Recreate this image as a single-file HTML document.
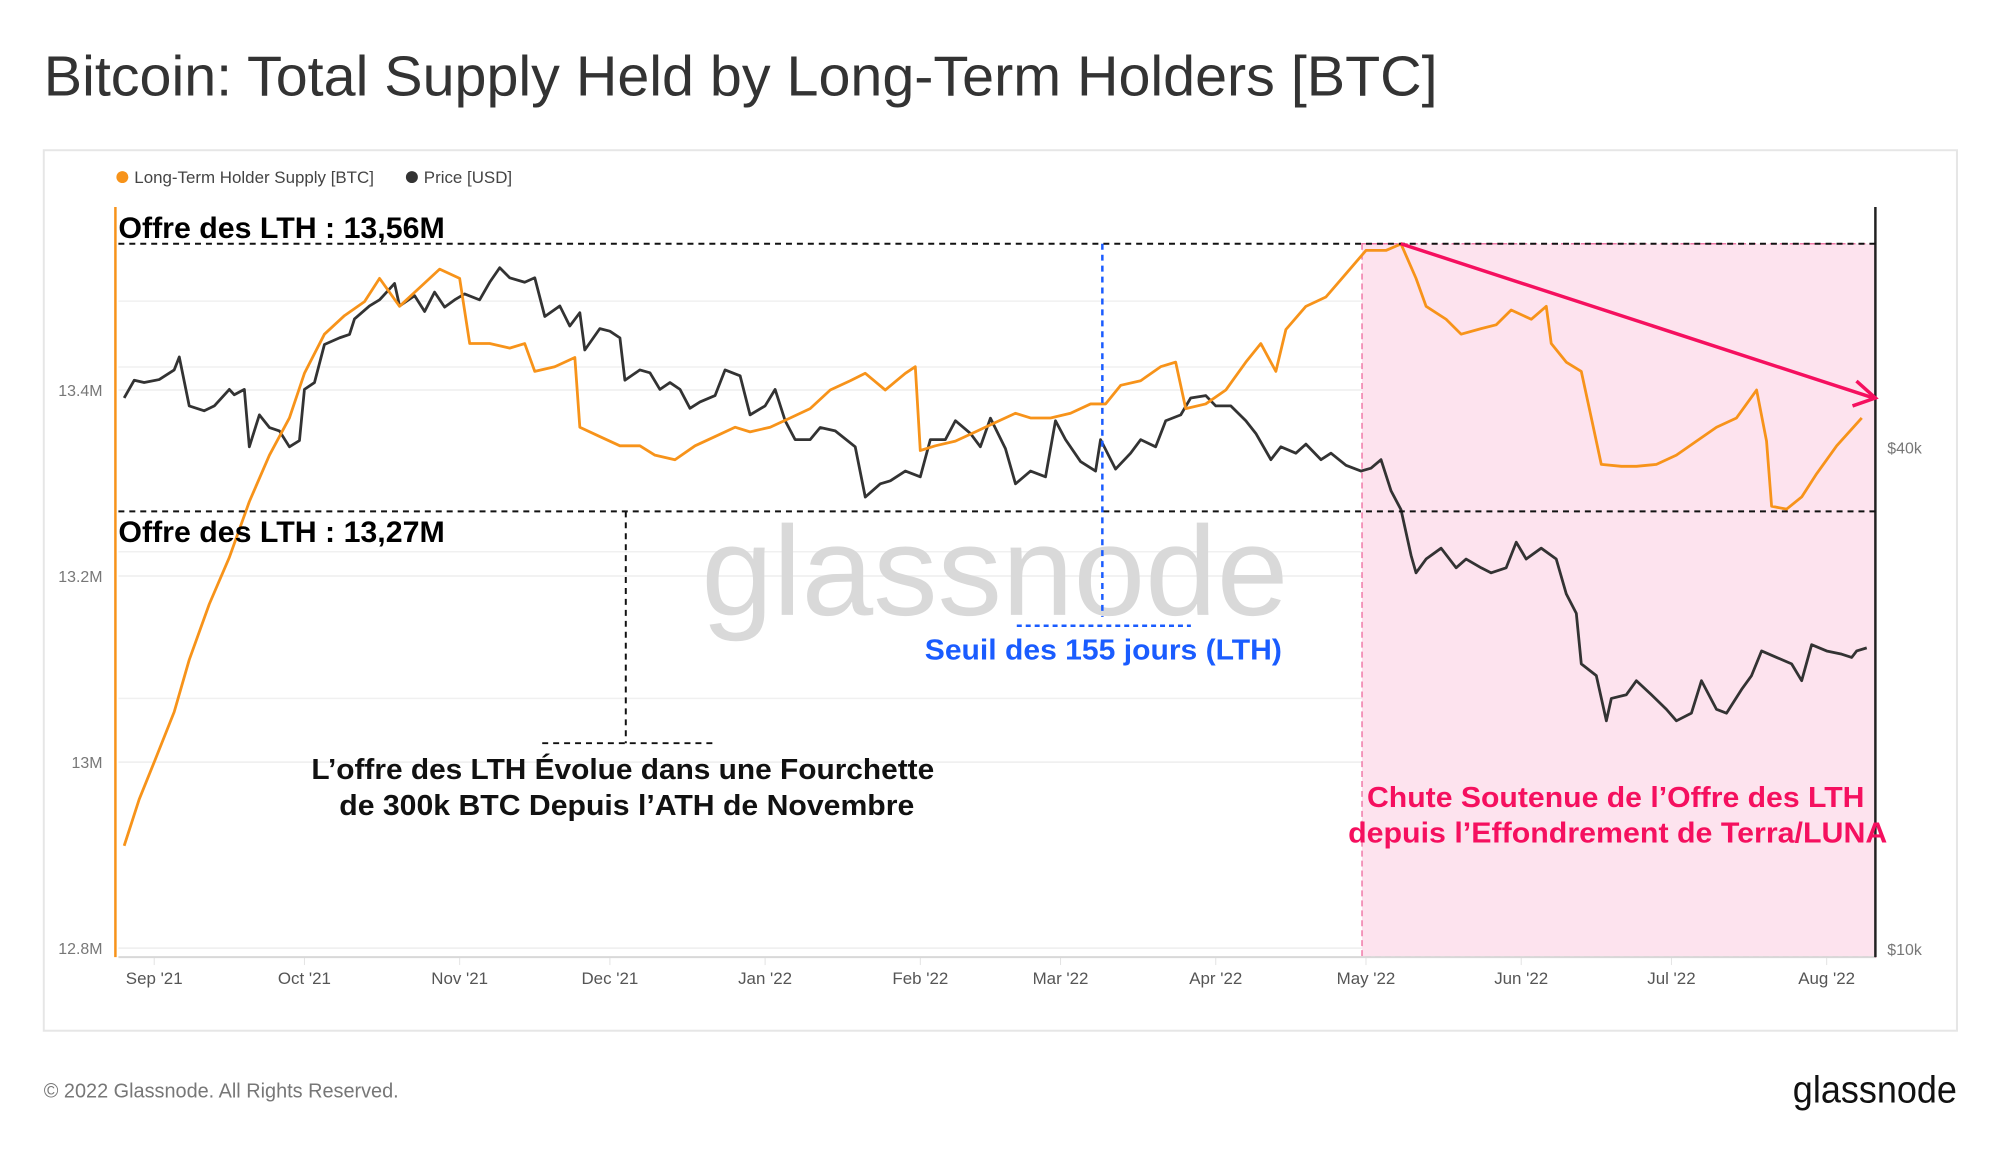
<!DOCTYPE html>
<html><head><meta charset="utf-8"><style>
html,body{margin:0;padding:0;background:#fff;}
svg{display:block;font-family:"Liberation Sans",sans-serif;}
</style></head><body>
<svg width="2000" height="1152" viewBox="0 0 2000 1152" xmlns="http://www.w3.org/2000/svg">
<g transform="scale(0.9949)">
<text x="44" y="96" font-size="57" fill="#333" textLength="1401" lengthAdjust="spacingAndGlyphs">Bitcoin: Total Supply Held by Long-Term Holders [BTC]</text>
<rect x="44" y="151" width="1923" height="885" fill="#fff" stroke="#e6e6e6" stroke-width="2"/>
<g>
<circle cx="123" cy="178" r="6" fill="#f7931a"/>
<text x="135" y="184" font-size="17" fill="#444">Long-Term Holder Supply [BTC]</text>
<circle cx="414" cy="178" r="6" fill="#333"/>
<text x="426" y="184" font-size="17" fill="#444">Price [USD]</text>
</g>
<g id="grid"></g>
<rect x="1369" y="245" width="516" height="717" fill="#fde3ee" stroke="#f07aa8" stroke-width="1.5" stroke-dasharray="6,4"/>
<text x="1000" y="618" font-size="128" fill="#d9d9d9" text-anchor="middle" textLength="590" lengthAdjust="spacingAndGlyphs">glassnode</text>
<g id="axes"></g>
<g id="series"></g>
<g>
<line x1="119" y1="245" x2="1885" y2="245" stroke="#111" stroke-width="2" stroke-dasharray="6,5"/>
<line x1="119" y1="514" x2="1885" y2="514" stroke="#111" stroke-width="2" stroke-dasharray="6,5"/>
<text x="119" y="239" font-size="30" font-weight="bold" fill="#000" textLength="328" lengthAdjust="spacingAndGlyphs">Offre des LTH : 13,56M</text>
<text x="119" y="545" font-size="30" font-weight="bold" fill="#000" textLength="328" lengthAdjust="spacingAndGlyphs">Offre des LTH : 13,27M</text>
<line x1="629" y1="514" x2="629" y2="747" stroke="#111" stroke-width="2" stroke-dasharray="6,5"/>
<line x1="545" y1="747" x2="718" y2="747" stroke="#111" stroke-width="2" stroke-dasharray="6,5"/>
<text x="626" y="783" font-size="29" font-weight="bold" fill="#111" text-anchor="middle" textLength="626" lengthAdjust="spacingAndGlyphs">L’offre des LTH Évolue dans une Fourchette</text>
<text x="630" y="819" font-size="29" font-weight="bold" fill="#111" text-anchor="middle" textLength="578" lengthAdjust="spacingAndGlyphs">de 300k BTC Depuis l’ATH de Novembre</text>
<line x1="1108" y1="245" x2="1108" y2="620" stroke="#1a5cff" stroke-width="2.5" stroke-dasharray="6,5"/>
<line x1="1022" y1="629" x2="1197" y2="629" stroke="#1a5cff" stroke-width="2.5" stroke-dasharray="5,4"/>
<text x="1109" y="663" font-size="29" font-weight="bold" fill="#1a5cff" text-anchor="middle" textLength="359" lengthAdjust="spacingAndGlyphs">Seuil des 155 jours (LTH)</text>
<text x="1624" y="811" font-size="29" font-weight="bold" fill="#f5105f" text-anchor="middle" textLength="500" lengthAdjust="spacingAndGlyphs">Chute Soutenue de l’Offre des LTH</text>
<text x="1626" y="847" font-size="29" font-weight="bold" fill="#f5105f" text-anchor="middle" textLength="542" lengthAdjust="spacingAndGlyphs">depuis l’Effondrement de Terra/LUNA</text>
<line x1="1408" y1="245" x2="1883" y2="400" stroke="#f5105f" stroke-width="3.5"/>
<polyline points="1866,383 1885,400 1862,408" fill="none" stroke="#f5105f" stroke-width="3.5"/>
</g>
<text x="44" y="1103" font-size="20" fill="#777">© 2022 Glassnode. All Rights Reserved.</text>
<text x="1967" y="1108" font-size="38" fill="#111" text-anchor="end" textLength="165" lengthAdjust="spacingAndGlyphs">glassnode</text>
</g>
</svg>
<script>
// days since 2021-09-01
const lthDays = [-6,-3,0,4,7,11,15,19,23,27,30,34,38,42,45,49,53,57,61,63,67,71,74,76,80,84,85,89,93,97,100,104,108,112,116,119,123,127,131,135,139,142,146,150,152,153,156,160,164,168,172,175,179,183,187,190,193,197,201,204,206,210,214,218,221,224,226,230,234,238,242,246,249,252,254,258,261,265,268,271,275,278,279,282,285,287,289,293,296,300,304,308,312,316,320,322,323,326,329,332,336,341];
const lthSupply = [12.91,12.96,13.0,13.054,13.11,13.17,13.22,13.28,13.33,13.37,13.418,13.46,13.48,13.495,13.52,13.49,13.51,13.53,13.52,13.45,13.45,13.445,13.45,13.42,13.425,13.435,13.36,13.35,13.34,13.34,13.33,13.325,13.34,13.35,13.36,13.355,13.36,13.37,13.38,13.40,13.41,13.418,13.40,13.418,13.425,13.335,13.34,13.345,13.355,13.365,13.375,13.37,13.37,13.375,13.385,13.385,13.405,13.41,13.425,13.43,13.38,13.385,13.40,13.43,13.45,13.42,13.465,13.49,13.50,13.525,13.55,13.55,13.557,13.52,13.49,13.476,13.46,13.466,13.47,13.486,13.476,13.49,13.45,13.43,13.42,13.37,13.32,13.318,13.318,13.32,13.33,13.345,13.36,13.37,13.40,13.345,13.275,13.272,13.285,13.31,13.34,13.37];
const priceDays = [-6,-4,-2,1,4,5,7,10,12,15,16,18,19,21,23,25,27,29,30,32,34,37,39,40,43,45,48,49,52,54,56,58,60,62,65,67,69,71,74,76,78,81,83,85,86,89,91,93,94,97,99,101,103,105,107,109,112,114,117,119,122,124,126,128,131,133,136,140,142,145,147,150,153,155,158,160,163,165,167,170,172,175,178,180,182,185,188,189,192,195,197,200,202,205,207,210,212,215,218,220,223,225,228,230,233,235,238,241,243,245,247,249,251,252,254,257,260,262,265,267,270,272,274,277,280,282,284,285,288,290,291,294,296,299,302,304,307,309,312,314,317,319,321,324,327,329,331,334,337,339,340,342];
const priceUsd = [45900,48200,47900,48300,49600,51400,44900,44300,44900,47000,46300,47000,40100,43800,42300,41900,40100,40800,47000,47900,53200,54200,54700,57100,59200,60200,63000,59200,60900,58300,61500,59000,60200,61200,60200,63200,65800,64000,63200,64000,57500,59200,56000,58100,52400,55600,55200,54200,48200,49600,49200,47000,47900,47000,44600,45400,46200,49600,48800,43800,44900,47000,43100,40900,40900,42300,41900,40100,34900,36200,36500,37500,36900,40900,40900,43100,41600,40100,43400,39900,36200,37500,36900,43100,40900,38500,37500,40900,37700,39400,40900,40100,43100,43800,45900,46200,44900,44900,43100,41600,38700,40100,39400,40400,38700,39400,38100,37500,37800,38700,35500,33700,29700,28300,29400,30300,28700,29400,28700,28300,28700,30800,29400,30300,29400,26700,25300,22000,21300,18800,20000,20200,21000,20200,19400,18800,19200,21000,19400,19200,20500,21300,22800,22400,22000,21000,23200,22800,22600,22400,22800,23000];
const monthLabels = ["Sep '21","Oct '21","Nov '21","Dec '21","Jan '22","Feb '22","Mar '22","Apr '22","May '22","Jun '22","Jul '22","Aug '22"];
const monthDays = [0,30,61,91,122,153,181,212,242,273,303,334];
const leftTicks = [12.8,13.0,13.2,13.4];
const leftTickLabels = ["12.8M","13M","13.2M","13.4M"];
const rightTicks = [10000,40000];
const rightTickLabels = ["$10k","$40k"];

const NS = "http://www.w3.org/2000/svg";
function xS(d){return 155 + d*5.033;}
function yL(v){return 392 - (v-13.4)/0.2*187;}
function yR(p){return 450 - Math.log10(p/40000)*837;}
function mk(tag, attrs, parent){const e=document.createElementNS(NS,tag);for(const k in attrs)e.setAttribute(k,attrs[k]);parent.appendChild(e);return e;}

const grid=document.getElementById('grid'), axes=document.getElementById('axes'), series=document.getElementById('series');
leftTicks.forEach(function(v,i){
  const g=mk('line',{x1:119,x2:1885,y1:yL(v),y2:yL(v),stroke:'#eeeeee','stroke-width':1.5},grid);
  
  
  const t=mk('text',{x:103,y:yL(v)+6,'font-size':16,fill:'#777','text-anchor':'end'},axes);
  t.textContent=leftTickLabels[i];
  
  
});
[20000,30000,50000,60000].forEach(function(p){
  const g=mk('line',{x1:119,x2:1885,y1:yR(p),y2:yR(p),stroke:'#f0f0f0','stroke-width':1.5},grid);
  
  
});
rightTicks.forEach(function(p,i){
  const t=mk('text',{x:1897,y:yR(p)+6,'font-size':16,fill:'#777'},axes);
  t.textContent=rightTickLabels[i];
  
  
});
monthDays.forEach(function(d,i){
  const tk=mk('line',{x1:xS(d),x2:xS(d),y1:962,y2:970,stroke:'#e3e3e3','stroke-width':1},axes);
  
  
  const t=mk('text',{x:xS(d),y:989,'font-size':17,fill:'#555','text-anchor':'middle'},axes);
  t.textContent=monthLabels[i];
  
  
});
const xb=mk('line',{x1:119,x2:1885,y1:962,y2:962,stroke:'#d8d8d8','stroke-width':2},axes);


const la=mk('line',{x1:116,x2:116,y1:208,y2:962,stroke:'#f7931a','stroke-width':2.5},axes);


const ra=mk('line',{x1:1885,x2:1885,y1:208,y2:962,stroke:'#222','stroke-width':2.5},axes);



let pp=priceDays.map(function(d,i){return (i?'L':'M')+xS(d).toFixed(1)+','+yR(priceUsd[i]).toFixed(1);}).join('');
const pl=mk('path',{d:pp,fill:'none',stroke:'#333','stroke-width':2.8,'stroke-linejoin':'round'},series);


let lp=lthDays.map(function(d,i){return (i?'L':'M')+xS(d).toFixed(1)+','+yL(lthSupply[i]).toFixed(1);}).join('');
const ll=mk('path',{d:lp,fill:'none',stroke:'#f7931a','stroke-width':2.8,'stroke-linejoin':'round'},series);


</script>
</body></html>
